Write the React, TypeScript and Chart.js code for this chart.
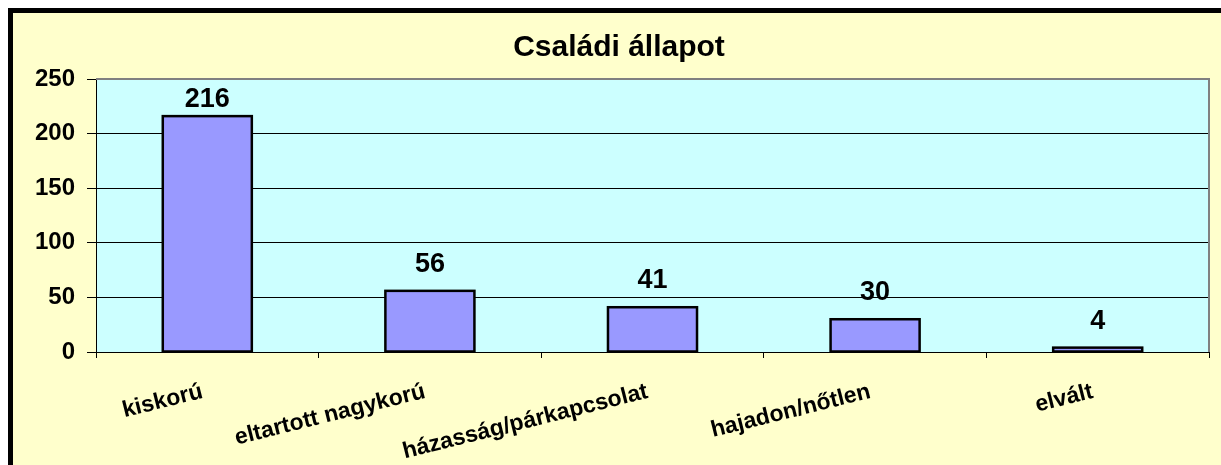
import React, { useEffect, useRef } from "react";
import { Chart, registerables } from "chart.js";

Chart.register(...registerables);

const chartTitle = "Családi állapot";
const categories = ["kiskorú", "eltartott nagykorú", "házasság/párkapcsolat", "hajadon/nőtlen", "elvált"];
const values = [216, 56, 41, 30, 4];
const yTickValues = [0, 50, 100, 150, 200, 250];

const FONT = "Arial, 'Liberation Sans', sans-serif";

const plotDecor = {
  id: "plotDecor",
  beforeDraw(chart: any) {
    const { ctx, chartArea: a } = chart;
    ctx.save();
    ctx.fillStyle = "#CCFFFF";
    ctx.fillRect(a.left, a.top, a.right - a.left, a.bottom - a.top);
    ctx.restore();
  },
  afterDraw(chart: any) {
    const { ctx, chartArea: a } = chart;
    ctx.save();
    ctx.strokeStyle = "#808080";
    ctx.lineWidth = 2;
    ctx.beginPath();
    ctx.moveTo(a.left, a.top);
    ctx.lineTo(a.right, a.top);
    ctx.lineTo(a.right, a.bottom);
    ctx.stroke();
    ctx.restore();
  },
};

// Excel-style outline: stroke centred on the bar edge
const barOutline = {
  id: "barOutline",
  afterDatasetsDraw(chart: any) {
    const { ctx } = chart;
    const meta = chart.getDatasetMeta(0);
    ctx.save();
    ctx.strokeStyle = "#000";
    ctx.lineWidth = 2.5;
    ctx.lineJoin = "miter";
    meta.data.forEach((bar: any) => {
      const props = bar.getProps(["x", "y", "base", "width"], true);
      const left = props.x - props.width / 2;
      ctx.strokeRect(left, props.y, props.width, props.base - props.y);
    });
    ctx.restore();
  },
};

const valueLabels = {
  id: "valueLabels",
  afterDatasetsDraw(chart: any) {
    const { ctx, chartArea: a } = chart;
    const meta = chart.getDatasetMeta(0);
    const data = chart.data.datasets[0].data;
    ctx.save();
    ctx.font = `bold 27px ${FONT}`;
    ctx.fillStyle = "#000";
    ctx.textAlign = "center";
    ctx.textBaseline = "alphabetic";
    meta.data.forEach((bar: any, i: number) => {
      let y = bar.y - 19;
      y = Math.max(y, a.top + 28);
      ctx.fillText(String(data[i]), bar.x, y);
    });
    ctx.restore();
  },
};

export default function App() {
  const canvasRef = useRef<HTMLCanvasElement | null>(null);

  useEffect(() => {
    const canvas = canvasRef.current;
    if (!canvas) return;
    const chart = new Chart(canvas, {
      type: "bar",
      data: {
        labels: categories,
        datasets: [
          {
            data: values,
            backgroundColor: "#9999FF",
            borderWidth: 0,
            categoryPercentage: 1,
            barPercentage: 0.4,
          },
        ],
      },
      options: {
        animation: false,
        responsive: false,
        maintainAspectRatio: false,
        layout: { padding: { left: 16, right: 12, top: 0, bottom: 0 } },
        plugins: {
          legend: { display: false },
          tooltip: { enabled: false },
          title: {
            display: true,
            text: chartTitle,
            color: "#000",
            font: { family: FONT, size: 30, weight: "bold" },
            padding: { top: 17, bottom: 13 },
          },
        },
        scales: {
          x: {
            grid: {
              offset: true,
              drawOnChartArea: false,
              drawTicks: true,
              tickLength: 6,
              color: "#000",
            },
            border: { display: true, color: "#000", width: 1 },
            ticks: {
              color: "#000",
              font: { family: FONT, size: 23, weight: "bold" },
              minRotation: 14,
              maxRotation: 14,
              autoSkip: false,
              padding: 20,
              labelOffset: -5,
            },
            afterFit: (scale: any) => {
              scale.height = 113;
            },
          },
          y: {
            min: 0,
            max: 250,
            grid: {
              color: "#000",
              lineWidth: 1,
              drawTicks: true,
              tickLength: 9,
            },
            border: { display: true, color: "#000", width: 1 },
            ticks: {
              color: "#000",
              font: { family: FONT, size: 24, weight: "bold" },
              padding: 12,
            },
            afterBuildTicks: (scale: any) => {
              scale.ticks = yTickValues.map((v) => ({ value: v }));
            },
            afterFit: (scale: any) => {
              scale.width = 67;
            },
          },
        },
      },
      plugins: [plotDecor, barOutline, valueLabels],
    });
    return () => chart.destroy();
  }, []);

  return (
    <div
      style={{
        position: "fixed",
        left: 8,
        top: 8,
        right: 0,
        bottom: 0,
        overflow: "hidden",
        borderTop: "5px solid #000",
        borderLeft: "5px solid #000",
        background: "#FFFFCC",
        boxSizing: "border-box",
      }}
    >
      <canvas ref={canvasRef} width={1208} height={452} style={{ display: "block" }} />
    </div>
  );
}
